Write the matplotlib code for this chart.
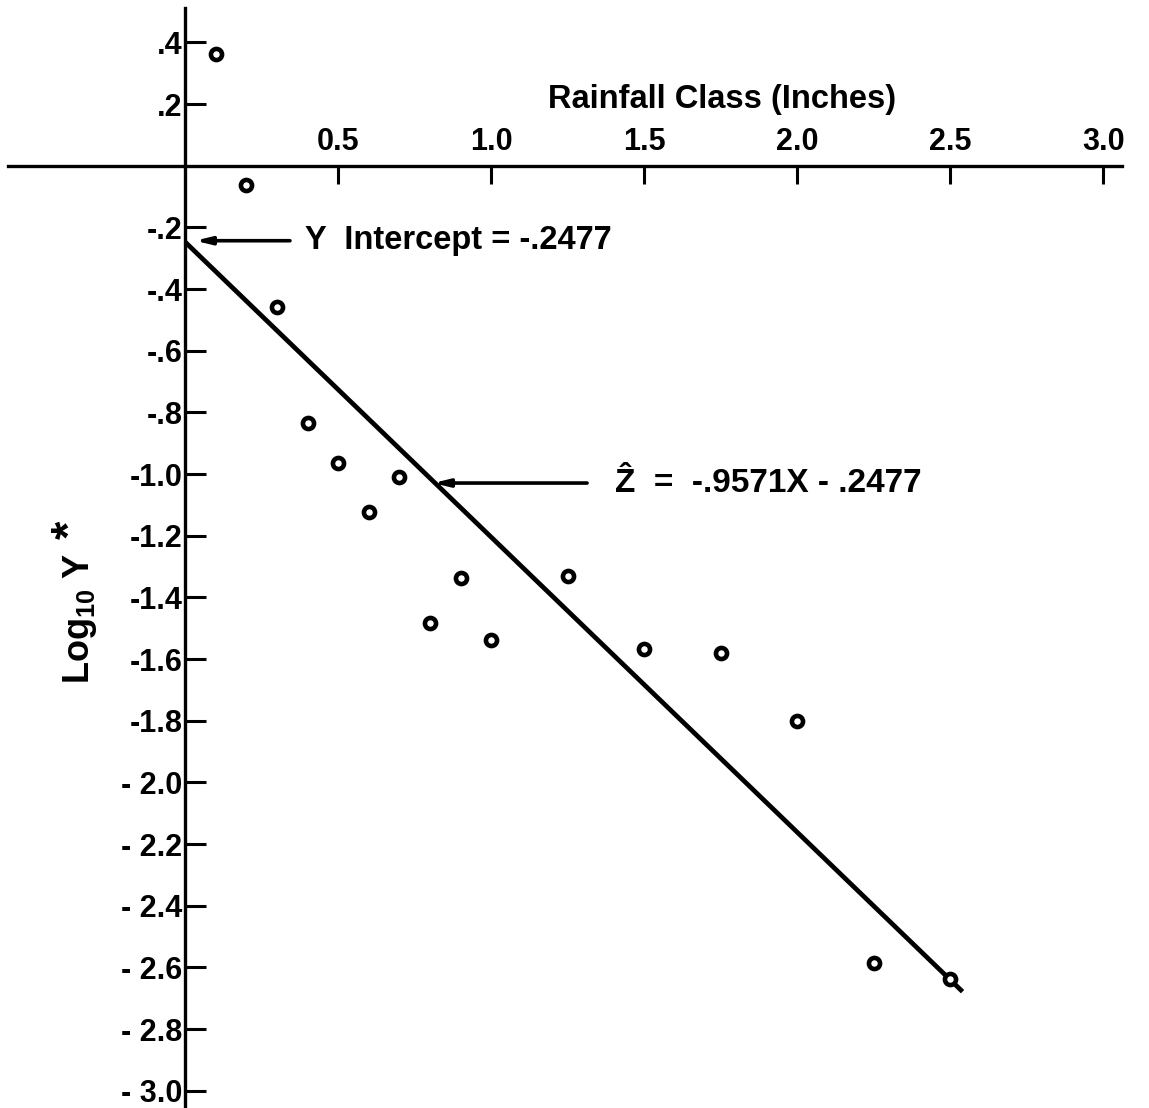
import matplotlib.pyplot as plt
import numpy as np

# data
rain_class = [0.1, 0.2, 0.3, 0.4, 0.5, 0.6, 0.7, 0.8, 0.9, 1.0,
              1.25, 1.5, 1.75, 2.0, 2.25, 2.5]
log_y = [0.362, -0.061, -0.459, -0.833, -0.963, -1.124, -1.008, -1.482,
         -1.336, -1.538, -1.331, -1.567, -1.580, -1.801, -2.587, -2.638]

slope = -0.9571
intercept = -0.2477
fit_x = [0.0, 2.54]

x_ticks = [0.5, 1.0, 1.5, 2.0, 2.5, 3.0]
x_labels = ["0.5", "1.0", "1.5", "2.0", "2.5", "3.0"]
y_ticks = [0.4, 0.2, -0.2, -0.4, -0.6, -0.8, -1.0, -1.2, -1.4, -1.6,
           -1.8, -2.0, -2.2, -2.4, -2.6, -2.8, -3.0]
y_labels = [".4", ".2", "-.2", "-.4", "-.6", "-.8", "-1.0", "-1.2", "-1.4",
            "-1.6", "-1.8", "- 2.0", "- 2.2", "- 2.4", "- 2.6", "- 2.8", "- 3.0"]

plt.rcParams["font.family"] = ["Liberation Sans", "DejaVu Sans"]
plt.rcParams["font.weight"] = "bold"
plt.rcParams["mathtext.fontset"] = "custom"
plt.rcParams["mathtext.rm"] = "Liberation Sans:bold"
plt.rcParams["mathtext.it"] = "Liberation Sans:bold"
plt.rcParams["mathtext.bf"] = "Liberation Sans:bold"

W, H = 1149, 1108
x0_px, y0_px = 185.3, 165.8
sx, sy = 306.0, 308.3


def px(x, y):
    # pixel position in the picture -> data coordinates
    return (x - x0_px) / sx, (y0_px - y) / sy


fig = plt.figure(figsize=(W / 100, H / 100), dpi=100)
ax = fig.add_axes([0, 0, 1, 1])
ax.set_xlim(-x0_px / sx, (W - x0_px) / sx)
ax.set_ylim(-(H - y0_px) / sy, y0_px / sy)

# axes crossing at origin
ax.spines["bottom"].set_visible(False)
ax.spines["right"].set_visible(False)
ax.spines["top"].set_position(("data", 0))
ax.spines["left"].set_position(("data", 0))
ax.spines["top"].set_bounds((8 - x0_px) / sx, (1122 - x0_px) / sx)
ax.spines["left"].set_bounds(-(H - y0_px) / sy, (y0_px - 8) / sy)
for s in ("top", "left"):
    ax.spines[s].set_linewidth(2.4)

ax.xaxis.set_ticks_position("top")
ax.set_xticks(x_ticks)
ax.set_xticklabels(x_labels)
ax.tick_params(axis="x", direction="in", length=13, width=2.2, pad=6,
               labelsize=22)
ax.set_yticks(y_ticks)
ax.set_yticklabels(y_labels)
ax.tick_params(axis="y", direction="in", length=15, width=2.2, pad=2,
               labelsize=22)

# fitted line
fx = np.array(fit_x)
ax.plot(fx, slope * fx + intercept, color="black", lw=3.4,
        solid_capstyle="butt", zorder=3)

# observed points
ax.plot(rain_class, log_y, "o", ms=8, mfc="white", mec="black", mew=3.3,
        zorder=4)

ax.text(*px(722, 100), "Rainfall Class (Inches)",
        ha="center", va="center", fontsize=23.5)

arrow = dict(arrowstyle="-|>,head_length=0.9,head_width=0.22",
             lw=2.6, color="black", shrinkA=0, shrinkB=0)
ax.annotate("", xy=(0.032, -0.243), xytext=(0.342, -0.243), arrowprops=arrow)
ax.text(0.392, -0.243, "Y  Intercept = -.2477", ha="left", va="center",
        fontsize=23.5)

ax.annotate("", xy=(0.81, -1.029), xytext=(1.313, -1.029), arrowprops=arrow)
ax.text(1.405, -1.029, "\u1E90  =  -.9571X - .2477", ha="left",
        va="center", fontsize=24)

ax.text(*px(80, 618), r"Log$_{10}$ Y", rotation=90, ha="center",
        va="center", fontsize=26)
ax.text(*px(72, 530), "*", rotation=90, ha="center", va="center",
        fontsize=34)

fig.savefig("out.png", dpi=100)
